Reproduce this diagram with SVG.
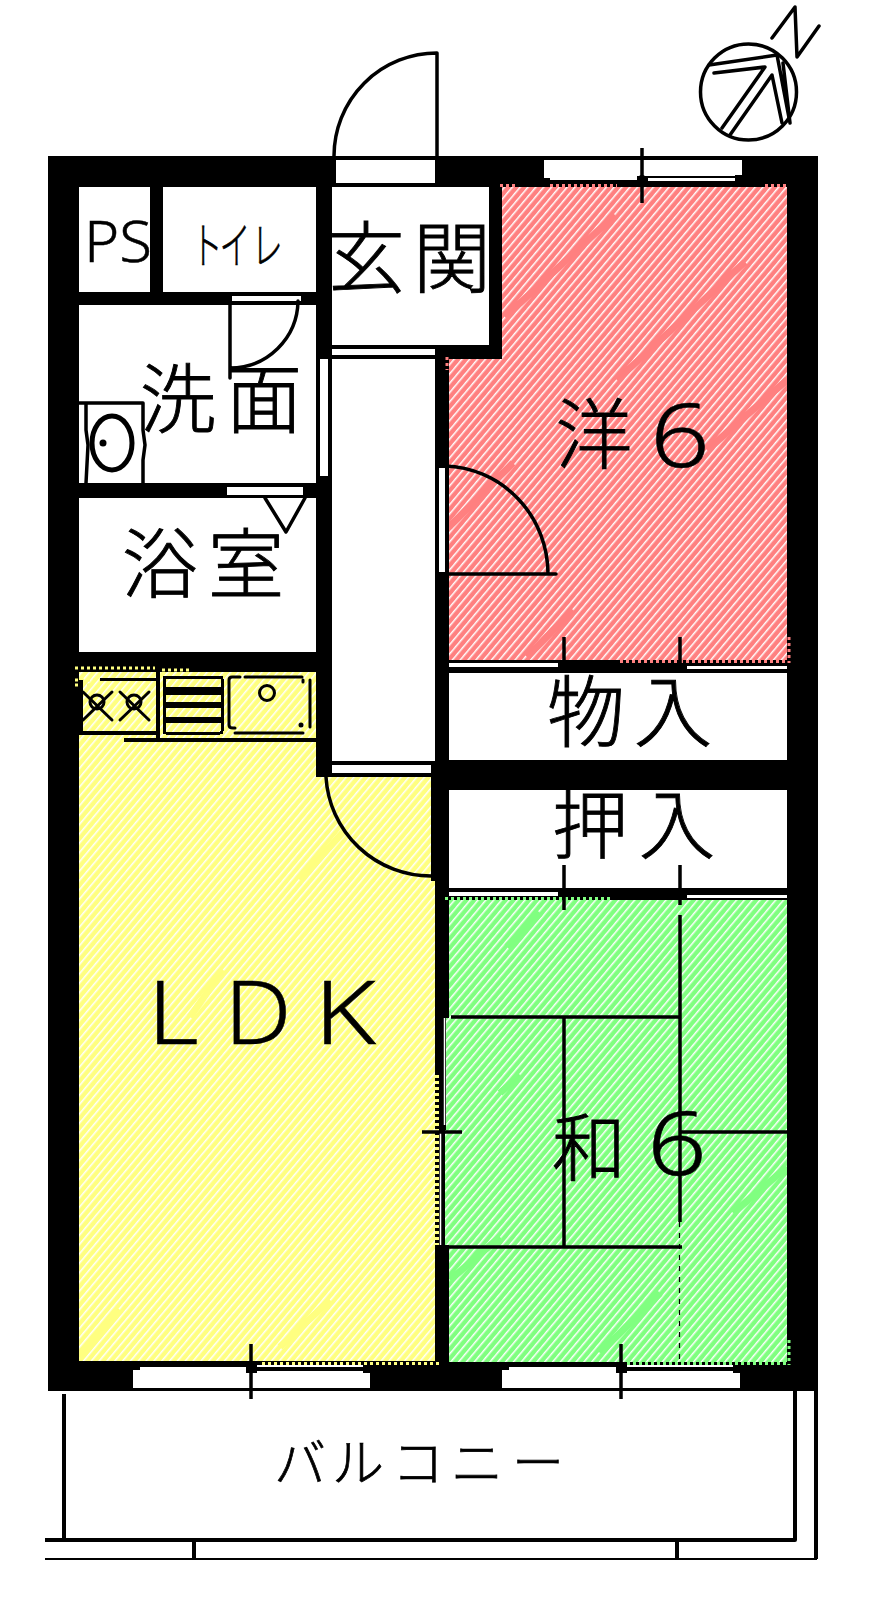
<svg xmlns="http://www.w3.org/2000/svg" width="870" height="1620" viewBox="0 0 870 1620">
<style>
rect{shape-rendering:crispEdges}
.t{font-family:"Noto Sans CJK JP","Noto Sans",sans-serif;font-weight:300;text-anchor:middle;fill:#000;stroke:#000;stroke-width:.9}
.n{font-family:"Noto Sans","Liberation Sans",sans-serif;font-weight:300;text-anchor:middle;fill:#000;stroke:#000;stroke-width:.5}
.l{fill:none;stroke:#000;stroke-width:3.5;stroke-linecap:round;stroke-linejoin:round}
.k{fill:#000}
.w{fill:#fff}
.b{fill:none;stroke-width:7}
</style>
<defs>
<pattern id="hp" width="6" height="6" patternUnits="userSpaceOnUse" patternTransform="rotate(-50)"><rect width="6" height="6" fill="#ff8080"/><rect y="2" width="6" height="1.500" fill="#fff" style="shape-rendering:auto"/></pattern>
<pattern id="hg" width="6" height="6" patternUnits="userSpaceOnUse" patternTransform="rotate(-50)"><rect width="6" height="6" fill="#80ff80"/><rect y="2" width="6" height="1.500" fill="#fff" style="shape-rendering:auto"/></pattern>
<pattern id="hy" width="6" height="6" patternUnits="userSpaceOnUse" patternTransform="rotate(-50)"><rect width="6" height="6" fill="#ffff80"/><rect y="2" width="6" height="1.500" fill="#fff" style="shape-rendering:auto"/></pattern>
<clipPath id="cp"><path d="M502 187H787V660H449V359H502Z"/></clipPath>
<clipPath id="cy"><path d="M79 672H316V777H431V881H435V1361H79Z"/></clipPath>
<clipPath id="cg"><rect x="449" y="900" width="338" height="462"/></clipPath>
</defs>
<rect width="870" height="1620" fill="#fff"/>
<rect class="k" x="48" y="156" width="770" height="1235"/>
<g id="ps"><rect class="w" x="79" y="187" width="71" height="105"/><text class="n" x="118" y="262" font-size="57" textLength="68" lengthAdjust="spacingAndGlyphs">PS</text></g>
<g id="toilet"><rect class="w" x="163" y="187" width="153" height="105"/><text class="t" font-size="50" x="334 379 431" y="0" transform="translate(0 264) scale(.62 1)" style="stroke-width:.6">トイレ</text></g>
<g id="genkan"><rect class="w" x="332" y="187" width="157" height="158"/><rect class="w" x="336" y="160" width="99" height="23"/><rect class="w" x="332" y="349" width="103" height="6"/><text class="t" font-size="78" x="366 452" y="287">玄関</text></g>
<g id="senmen"><rect class="w" x="79" y="305" width="237" height="178"/><rect class="w" x="232" y="296" width="69" height="5"/><rect class="w" x="320" y="359" width="8" height="117"/><rect class="w" x="227" y="487" width="76" height="8"/>
<path class="l" d="M230 301V378M298 301A68 68 0 0 1 230 368"/>
<path class="l" d="M78 403H143M86 403V430L88 445L86 483M143 403V430L145 445L143 460V483"/>
<ellipse class="l" cx="112" cy="443" rx="20" ry="27" style="stroke-width:5"/><circle class="k" cx="103" cy="443" r="3.5"/>
<text class="t" font-size="76" x="178 264" y="427">洗面</text></g>
<g id="bath"><rect class="w" x="79" y="498" width="237" height="154"/><path class="l" d="M265 498L286 532L305 498"/><text class="t" font-size="76" x="160 246" y="592">浴室</text></g>
<g id="hall"><rect class="w" x="332" y="359" width="103" height="402"/><rect class="w" x="332" y="765" width="99" height="8"/></g>
<g id="youshitsu"><path fill="url(#hp)" d="M502 187H787V660H449V359H502Z"/>
<g clip-path="url(#cp)" stroke="#ff8080" class="b"><path class="b" d="M505 317L615 215M617 380L745 262M707 450L787 380M449 527L513 463M527 657L573 610"/></g>
<path stroke="#ff8080" stroke-width="3" stroke-dasharray="3 3" fill="none" d="M500 185.500H517M550 185.500H617M765 185.500H787M447 357V370M620 661.500H787M789 637V663"/>
<rect class="w" x="439" y="468" width="6" height="104"/>
<path class="l" d="M445 466A106 108 0 0 1 548 574M445 574H556"/>
<text class="t" font-size="77" x="594" y="463">洋</text><text class="n" font-size="88" x="680" y="467" textLength="60" lengthAdjust="spacingAndGlyphs">6</text></g>
<g id="closet1"><rect class="w" x="449" y="663" width="109" height="4"/><rect class="w" x="687" y="666" width="100" height="3"/><rect class="w" x="449" y="673" width="338" height="87"/><text class="t" font-size="78" x="586 673" y="741">物入</text></g>
<g id="closet2"><rect class="w" x="449" y="790" width="338" height="98"/><rect class="w" x="449" y="892" width="109" height="4"/><rect class="w" x="687" y="895" width="100" height="3"/><text class="t" font-size="76" x="590 677" y="853">押入</text></g>
<g id="ldk"><path fill="url(#hy)" d="M79 672H316V777H431V881H435V1361H79Z"/>
<g clip-path="url(#cy)" stroke="#ffff80" class="b"><path class="b" d="M80 1358L120 1310M280 1347L330 1300M190 1017L223 970M300 880L345 830"/></g>
<path stroke="#ffff80" stroke-width="3" stroke-dasharray="3 3" fill="none" d="M75 668H155M162 670H192M262 1363.500H440M75 680H100M75 685H90"/>
<path stroke="#ffff80" stroke-width="4" stroke-dasharray="3 3" fill="none" d="M437 1075V1245"/>
<rect class="k" x="79" y="680" width="4" height="55"/><rect class="k" x="83" y="731" width="73" height="4"/><rect class="k" x="100" y="678" width="56" height="3"/><rect class="k" x="156" y="668" width="4" height="70"/>
<path class="l" d="M124 740H316" style="stroke-width:4;stroke-linecap:butt"/>
<g id="stove" class="l" style="stroke-width:3"><circle cx="97" cy="702" r="7"/><path d="M83 720L112 692M83 692L112 720"/><circle cx="134" cy="702" r="7"/><path d="M120 720L149 692M120 692L149 720"/></g>
<rect x="164" y="677" width="58" height="56" rx="2" class="l" style="stroke-width:3"/>
<path class="k" d="M164 687H222V695H164ZM164 702H222V708H164ZM164 717H222V723H164Z"/>
<path class="l" d="M240 677H232Q229 677 229 680V725Q229 728 233 728H235M235 733H303M245 677H302M303 680V682M310 680V727" style="stroke-width:3"/>
<circle cx="301" cy="725" r="2.500" class="k"/><circle cx="267" cy="693" r="7.500" class="l" style="stroke-width:3"/>
<path class="l" d="M326 777A105 105 0 0 0 431 876"/>
<text class="n" font-size="88" x="173" y="1044" textLength="51" lengthAdjust="spacingAndGlyphs">L</text><text class="n" font-size="88" x="258" y="1044" textLength="67" lengthAdjust="spacingAndGlyphs">D</text><text class="n" font-size="88" x="345" y="1044" textLength="62" lengthAdjust="spacingAndGlyphs">K</text></g>
<g id="washitsu"><rect fill="url(#hg)" x="449" y="900" width="338" height="462"/>
<g clip-path="url(#cg)" stroke="#80ff80" class="b"><path class="b" d="M450 1280L500 1237M600 1353L660 1293M733 1213L787 1167M507 947L540 913M500 1093L520 1075"/></g>
<path stroke="#80ff80" stroke-width="3" stroke-dasharray="3 3" fill="none" d="M445 898.500H612M627 1363.500H787M789 1340V1365"/>
<path fill="url(#hg)" d="M446 1018H449V1245H445V1130H446Z"/>
<path stroke="#fff" stroke-width="1.500" d="M444.500 1018V1125M440.500 1132V1245"/>
<path stroke="#ffff80" stroke-width="3" stroke-dasharray="3 3" fill="none" d="M437 1075V1130"/>
<path class="l" style="stroke-linecap:butt" d="M451 1017H680M680 915V1222M564 1017V1247M445 1247H682M422 1132H462M680 1132H787"/>
<path stroke="#000" stroke-width="1.200" stroke-dasharray="5 6" fill="none" d="M679.500 1222V1362"/>
<text class="t" font-size="74" x="589" y="1175">和</text><text class="n" font-size="88" x="677" y="1175" textLength="60" lengthAdjust="spacingAndGlyphs">6</text></g>
<g id="windows"><path class="w" d="M544 160H742V175H735V181H648V176H637V180H550V178H544Z"/><path class="k" d="M646 176H735V178H646Z"/>
<path class="w" d="M133 1388V1370H140V1367H246V1388ZM257 1388V1371H363V1373H370V1388ZM257 1365H363V1367H257Z"/>
<path class="w" d="M502 1388V1370H509V1367H616V1388ZM627 1388V1371H733V1373H740V1388ZM627 1365H733V1367H627Z"/>
<rect class="w" x="246" y="1373" width="11" height="15"/><rect class="w" x="616" y="1373" width="11" height="15"/>
<path class="l" style="stroke-linecap:butt" d="M642 148V203M564 637V672M680 637V672M564 865V910M680 865V905M251 1344V1399M621 1344V1399"/>
<circle class="k" cx="642" cy="180" r="5"/><rect class="k" x="246" y="1366" width="11" height="7"/><rect class="k" x="616" y="1366" width="11" height="7"/><rect class="k" x="365" y="1367" width="10" height="5"/><rect class="k" x="735" y="1367" width="10" height="5"/>
<rect class="k" x="558" y="663" width="12" height="5"/><rect class="k" x="675" y="663" width="12" height="5"/><rect class="k" x="558" y="892" width="12" height="5"/><rect class="k" x="675" y="892" width="12" height="5"/></g>
<g id="door"><path class="l" d="M334 156A103 103 0 0 1 437 53V156"/></g>
<g id="north"><circle class="l" cx="748.500" cy="92" r="48"/><path class="l" d="M772 38L795 7L797 57L819 26M709 65L777 55L790 123M714 73L765 67L722 128M730 135L772 75L782 123M783 63L790 123"/></g>
<g id="balcony"><path class="l" style="stroke-width:4;stroke-linecap:butt" d="M64 1394V1540M45 1540H795V1391M816 1391V1559M194 1540V1559M677 1540V1559"/><path stroke="#000" stroke-width="2" d="M45 1559H817"/>
<text class="t" font-size="52" x="300 358 418 477 538" y="1482" style="stroke-width:.7">バルコニー</text></g>
</svg>
